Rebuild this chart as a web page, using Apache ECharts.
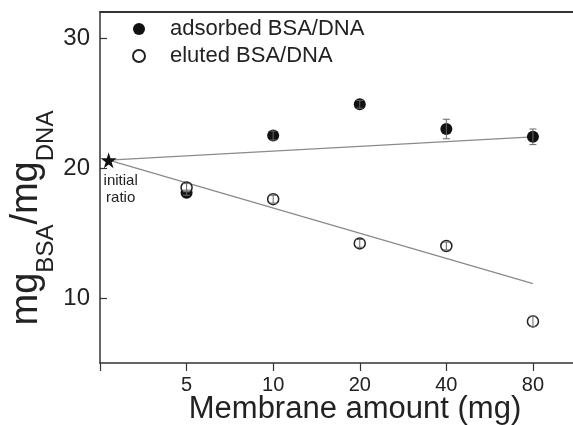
<!DOCTYPE html>
<html><head><meta charset="utf-8">
<script src="https://cdn.jsdelivr.net/npm/echarts@6/dist/echarts.min.js"></script>
<style>html,body{margin:0;padding:0;background:#fff}#c{width:573px;height:425px}</style>
</head><body><div id="c"></div>
<script>
// Membrane amounts (categorical positions 1..5 on the x axis)
const amounts = ['5', '10', '20', '40', '80'];
const amountPos = [1, 2, 3, 4, 5];
// BSA/DNA mass ratios
const adsorbed = [18.1, 22.5, 24.9, 23.0, 22.4];
const adsorbedErr = [0.2, 0.35, 0.3, 0.75, 0.6];
const eluted = [18.5, 17.6, 14.2, 14.0, 8.2];
const elutedErr = [0.3, 0.3, 0.3, 0.3, 0.4];
// starting ratio before membrane contact
const initialPos = 0.1;
const initialRatio = 20.6;
// linear trend lines
const fitPos = [0.1, 5];
const adsorbedFit = [20.6, 22.4];
const elutedFit = [20.6, 11.1];
const yTicks = [10, 20, 30];

const FONT = '"Liberation Sans", Arial, Helvetica, sans-serif';
const STAR = 'path://M50,0 L61,35 L98,35 L68,57 L79,91 L50,70 L21,91 L32,57 L2,35 L39,35 Z';
const X_MAX = 5.89;

function pairs(xs, ys) { return xs.map((x, i) => [x, ys[i]]); }
function errData(xs, ys, es) { return xs.map((x, i) => [x, ys[i], es[i]]); }

function errBar(params, api) {
  const x = api.value(0), y = api.value(1), e = api.value(2);
  const lo = api.coord([x, y - e]);
  const hi = api.coord([x, y + e]);
  const w = 3.5;
  const st = { stroke: '#666', lineWidth: 1 };
  return {
    type: 'group',
    children: [
      { type: 'line', shape: { x1: lo[0], y1: lo[1], x2: hi[0], y2: hi[1] }, style: st },
      { type: 'line', shape: { x1: lo[0] - w, y1: lo[1], x2: lo[0] + w, y2: lo[1] }, style: st },
      { type: 'line', shape: { x1: hi[0] - w, y1: hi[1], x2: hi[0] + w, y2: hi[1] }, style: st }
    ]
  };
}

const chart = echarts.init(document.getElementById('c'), null, { renderer: 'canvas' });
chart.setOption({
  animation: false,
  backgroundColor: '#fff',
  textStyle: { fontFamily: FONT },
  grid: {
    left: 100, top: 12, width: 510, height: 351, show: false,
    outerBoundsMode: 'none', containLabel: false
  },
  legend: {
    data: ['adsorbed BSA/DNA', 'eluted BSA/DNA'],
    orient: 'vertical', left: 132, top: 18, padding: 0,
    itemWidth: 12, itemHeight: 12, itemGap: 5,
    textStyle: { fontSize: 22, color: '#222', lineHeight: 22, padding: [0, 0, 0, 20], fontFamily: FONT }
  },
  xAxis: [{
    type: 'value', min: 0, max: X_MAX, interval: 1,
    axisLine: { lineStyle: { color: '#333', width: 1.5 } },
    axisTick: { inside: false, length: 8, lineStyle: { color: '#333', width: 1.2 } },
    axisLabel: {
      fontSize: 20, color: '#222', margin: 12, fontFamily: FONT,
      formatter: v => (Number.isInteger(v) && v >= 1 && v <= amounts.length) ? amounts[v - 1] : ''
    },
    splitLine: { show: false },
    name: 'Membrane amount (mg)', nameLocation: 'middle', nameGap: 31, nameMoveOverlap: false,
    nameTextStyle: { fontSize: 31, color: '#222', fontFamily: FONT, verticalAlign: 'top' }
  }, {
    // plain top frame line
    type: 'value', position: 'top', min: 0, max: X_MAX,
    axisLine: { show: true, lineStyle: { color: '#333', width: 1.8 } },
    axisTick: { show: false }, axisLabel: { show: false }, splitLine: { show: false }
  }],
  yAxis: {
    type: 'value', min: 5, max: 32,
    axisLine: { show: true, lineStyle: { color: '#333', width: 1.5 } },
    axisTick: { inside: true, length: 7, customValues: yTicks, lineStyle: { color: '#333', width: 1.2 } },
    axisLabel: { fontSize: 24, color: '#222', margin: 10, customValues: yTicks, fontFamily: FONT },
    splitLine: { show: false }
  },
  graphic: [{
    type: 'text', x: 33, y: 218, rotation: Math.PI / 2,
    style: {
      text: '{m|mg}{s|BSA}{m|/mg}{s|DNA}',
      align: 'center', verticalAlign: 'middle', fill: '#222',
      rich: {
        m: { fontSize: 38, lineHeight: 38, verticalAlign: 'top', fontFamily: FONT, fill: '#222' },
        s: { fontSize: 24, lineHeight: 50, verticalAlign: 'bottom', fontFamily: FONT, fill: '#222' }
      }
    }
  }],
  series: [
    {
      name: 'adsorbed fit', type: 'line', data: pairs(fitPos, adsorbedFit), showSymbol: false,
      lineStyle: { color: '#8a8a8a', width: 1.3 }, z: 1, silent: true
    },
    {
      name: 'eluted fit', type: 'line', data: pairs(fitPos, elutedFit), showSymbol: false,
      lineStyle: { color: '#8a8a8a', width: 1.3 }, z: 1, silent: true
    },
    {
      name: 'adsorbed BSA/DNA', type: 'scatter', data: pairs(amountPos, adsorbed),
      symbol: 'circle', symbolSize: 12, itemStyle: { color: '#111', opacity: 1 }, z: 3
    },
    {
      name: 'eluted BSA/DNA', type: 'scatter', data: pairs(amountPos, eluted),
      symbol: 'circle', symbolSize: 11,
      itemStyle: { color: '#fff', borderColor: '#222', borderWidth: 1.5, opacity: 1 }, z: 3
    },
    {
      name: 'adsorbed err', type: 'custom', renderItem: errBar,
      data: errData(amountPos, adsorbed, adsorbedErr), z: 4, silent: true
    },
    {
      name: 'eluted err', type: 'custom', renderItem: errBar,
      data: errData(amountPos, eluted, elutedErr), z: 4, silent: true
    },
    {
      name: 'initial', type: 'scatter', data: [[initialPos, initialRatio]],
      symbol: STAR, symbolSize: 16, itemStyle: { color: '#111', opacity: 1 }, z: 5,
      label: {
        show: true, position: 'bottom', formatter: 'initial\nratio', distance: 4,
        offset: [12, 0], fontSize: 15, lineHeight: 17, color: '#222', fontFamily: FONT
      }
    }
  ]
});
</script>
</body></html>
